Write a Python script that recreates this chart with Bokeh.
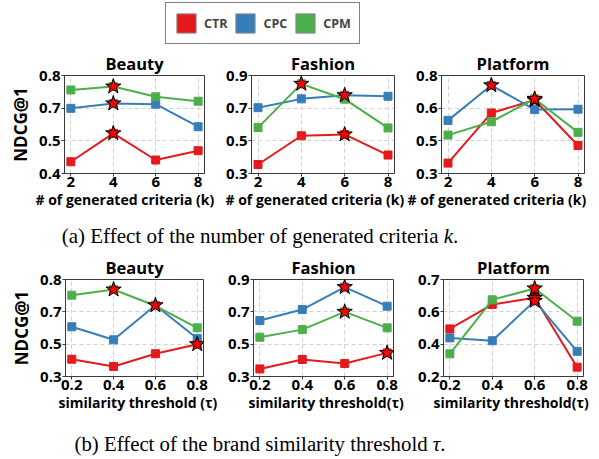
import numpy as np
from bokeh.plotting import figure
from bokeh.layouts import column, row
from bokeh.models import (FixedTicker, PrintfTickFormatter, Title, Legend, LegendItem,
                          Div, Range1d)
from bokeh.embed import file_html
from bokeh.resources import INLINE

SERIES = ["CTR", "CPC", "CPM"]
COLORS = ["#e41a1c", "#377eb8", "#4daf4a"]

DATASETS = ["Beauty", "Fashion", "Platform"]

# (a) number of generated criteria k
K_VALUES = [2, 4, 6, 8]
A_BEAUTY_CTR = [0.448, 0.564, 0.455, 0.493]
A_BEAUTY_CPC = [0.666, 0.686, 0.683, 0.591]
A_BEAUTY_CPM = [0.741, 0.755, 0.713, 0.695]
A_FASHION_CTR = [0.355, 0.531, 0.539, 0.413]
A_FASHION_CPC = [0.703, 0.757, 0.779, 0.773]
A_FASHION_CPM = [0.581, 0.849, 0.755, 0.579]
A_PLATFORM_CTR = [0.353, 0.609, 0.675, 0.443]
A_PLATFORM_CPC = [0.571, 0.750, 0.626, 0.628]
A_PLATFORM_CPM = [0.496, 0.564, 0.681, 0.510]
A_YLIM = [(0.4, 0.8), (0.3, 0.9), (0.3, 0.8)]
A_XLABELS = ["# of generated criteria (k)"] * 3

# (b) brand similarity threshold tau
TAU_VALUES = [0.2, 0.4, 0.6, 0.8]
B_BEAUTY_CTR = [0.398, 0.357, 0.429, 0.483]
B_BEAUTY_CPC = [0.582, 0.508, 0.704, 0.515]
B_BEAUTY_CPM = [0.761, 0.793, 0.701, 0.576]
B_FASHION_CTR = [0.347, 0.405, 0.380, 0.446]
B_FASHION_CPC = [0.646, 0.714, 0.853, 0.735]
B_FASHION_CPM = [0.543, 0.590, 0.700, 0.601]
B_PLATFORM_CTR = [0.465, 0.601, 0.638, 0.252]
B_PLATFORM_CPC = [0.415, 0.399, 0.621, 0.340]
B_PLATFORM_CPM = [0.326, 0.627, 0.690, 0.508]
B_YLIM = [(0.3, 0.85), (0.3, 0.9), (0.2, 0.74)]
B_XLABELS = ["similarity threshold (\u03c4)", "similarity threshold(\u03c4)", "similarity threshold(\u03c4)"]

CAPTION_A = "(a) Effect of the number of generated criteria <i>k</i>."
CAPTION_B = "(b) Effect of the brand similarity threshold <i>\u03c4</i>."

FONT = "Open Sans"
INK = "#3a3a3a"


def panel(title, xs, series, ylim, xlim, xlabel, layout, ylabel=None):
    left, fw, right, fh, xl_off = layout
    p = figure(output_backend="svg", toolbar_location=None,
               frame_width=fw, frame_height=fh,
               x_range=Range1d(*xlim), y_range=Range1d(*ylim),
               min_border_left=left, min_border_right=right,
               min_border_top=27, min_border_bottom=0)
    p.title.text = title
    p.title.align = "center"
    p.title.text_font = FONT
    p.title.text_font_style = "bold"
    p.title.text_font_size = "16.5px"
    p.title.text_color = "black"
    p.title.standoff = 2

    p.outline_line_color = INK
    p.outline_line_width = 1
    p.outline_line_alpha = 1

    p.xaxis.ticker = FixedTicker(ticks=list(xs))
    p.yaxis.ticker = FixedTicker(ticks=list(np.linspace(ylim[0], ylim[1], 4)))
    p.yaxis.formatter = PrintfTickFormatter(format="%.1f")
    for ax in (p.xaxis, p.yaxis):
        ax.axis_line_color = INK
        ax.major_tick_line_color = INK
        ax.major_tick_out = 3
        ax.major_tick_in = 0
        ax.minor_tick_out = 0
        ax.minor_tick_in = 0
        ax.major_label_text_font = FONT
        ax.major_label_text_font_style = "bold"
        ax.major_label_text_font_size = "15px"
        ax.major_label_text_color = "black"
    p.xaxis.major_label_standoff = 0
    p.yaxis.major_label_standoff = 1
    for g in (p.xgrid, p.ygrid):
        g.grid_line_color = "#d0d0d0"
        g.grid_line_dash = "4 3"
        g.grid_line_width = 1

    if ylabel:
        p.yaxis.axis_label = ylabel
        p.yaxis.axis_label_text_font = FONT
        p.yaxis.axis_label_text_font_style = "bold"
        p.yaxis.axis_label_text_font_size = "17px"
        p.yaxis.axis_label_text_color = "black"
        p.yaxis.axis_label_standoff = 4

    xt = Title(text=xlabel, align="left", offset=xl_off, text_font=FONT,
               text_font_style="bold", text_font_size="14px", text_color="black",
               standoff=0, vertical_align="top")
    p.add_layout(xt, "below")

    for ys, c in zip(series, COLORS):
        p.line(xs, ys, line_color=c, line_width=2)
        p.scatter(xs, ys, marker="square", size=8, fill_color=c, line_color=c)
    for ys in series:
        i = int(np.argmax(ys))
        p.scatter([xs[i]], [ys[i]], marker="star", size=16, fill_color="red",
                  line_color="black", line_width=1)
    return p


# layout: (min_border_left, frame_width, min_border_right, frame_height, xlabel offset)
ROW_A_LAYOUT = [(64, 140, 14, 98, -29), (33, 143, 11, 98, -26), (36, 143, 7, 98, -34)]
ROW_B_LAYOUT = [(65, 138, 15, 97, -7), (35, 140, 12, 97, -5), (38, 140, 8, 97, -10)]

A_SERIES = [[A_BEAUTY_CTR, A_BEAUTY_CPC, A_BEAUTY_CPM],
            [A_FASHION_CTR, A_FASHION_CPC, A_FASHION_CPM],
            [A_PLATFORM_CTR, A_PLATFORM_CPC, A_PLATFORM_CPM]]
B_SERIES = [[B_BEAUTY_CTR, B_BEAUTY_CPC, B_BEAUTY_CPM],
            [B_FASHION_CTR, B_FASHION_CPC, B_FASHION_CPM],
            [B_PLATFORM_CTR, B_PLATFORM_CPC, B_PLATFORM_CPM]]

row_a = []
for i, name in enumerate(DATASETS):
    row_a.append(panel(name, K_VALUES, A_SERIES[i], A_YLIM[i], (1.7, 8.3), A_XLABELS[i],
                       ROW_A_LAYOUT[i], ylabel="NDCG@1" if i == 0 else None))
row_b = []
for i, name in enumerate(DATASETS):
    row_b.append(panel(name, TAU_VALUES, B_SERIES[i], B_YLIM[i], (0.17, 0.83), B_XLABELS[i],
                       ROW_B_LAYOUT[i], ylabel="NDCG@1" if i == 0 else None))

# legend strip
lp = figure(output_backend="svg", toolbar_location=None, width=591, height=48,
            min_border=0, x_axis_location=None, y_axis_location=None,
            x_range=Range1d(0, 1), y_range=Range1d(0, 1))
lp.outline_line_color = None
lp.xgrid.visible = False
lp.ygrid.visible = False
items = []
for name, c in zip(SERIES, COLORS):
    r = lp.quad(left=[0], right=[0], top=[0], bottom=[0], fill_color=c,
                line_color="#8a8a8a", line_width=1)
    r.visible = False
    items.append(LegendItem(label=name, renderers=[r]))
leg = Legend(items=items, orientation="horizontal", location=(165, 4),
             glyph_width=24, glyph_height=24, label_standoff=6, spacing=6, padding=8,
             margin=0, border_line_color="black", border_line_width=1.5,
             label_text_font=FONT, label_text_font_style="bold",
             label_text_font_size="12.5px", label_height=20,
             background_fill_color="white", background_fill_alpha=1)
lp.add_layout(leg)


def caption(html, height, pad, size):
    return Div(text=('<div style="font-family:\'Liberation Serif\',serif;font-size:%spx;'
                     'text-align:center;width:510px;line-height:22px;padding-top:%dpx;'
                     'color:black;">%s</div>' % (size, pad, html)),
               width=510, height=height)


cap_a = caption(CAPTION_A, 32, 10, 21)
cap_b = caption(CAPTION_B, 40, 15, 20.8)

layout = column(lp, row(*row_a, spacing=0), cap_a, row(*row_b, spacing=0), cap_b, spacing=0)

open("out.html", "w").write(file_html(layout, INLINE))
